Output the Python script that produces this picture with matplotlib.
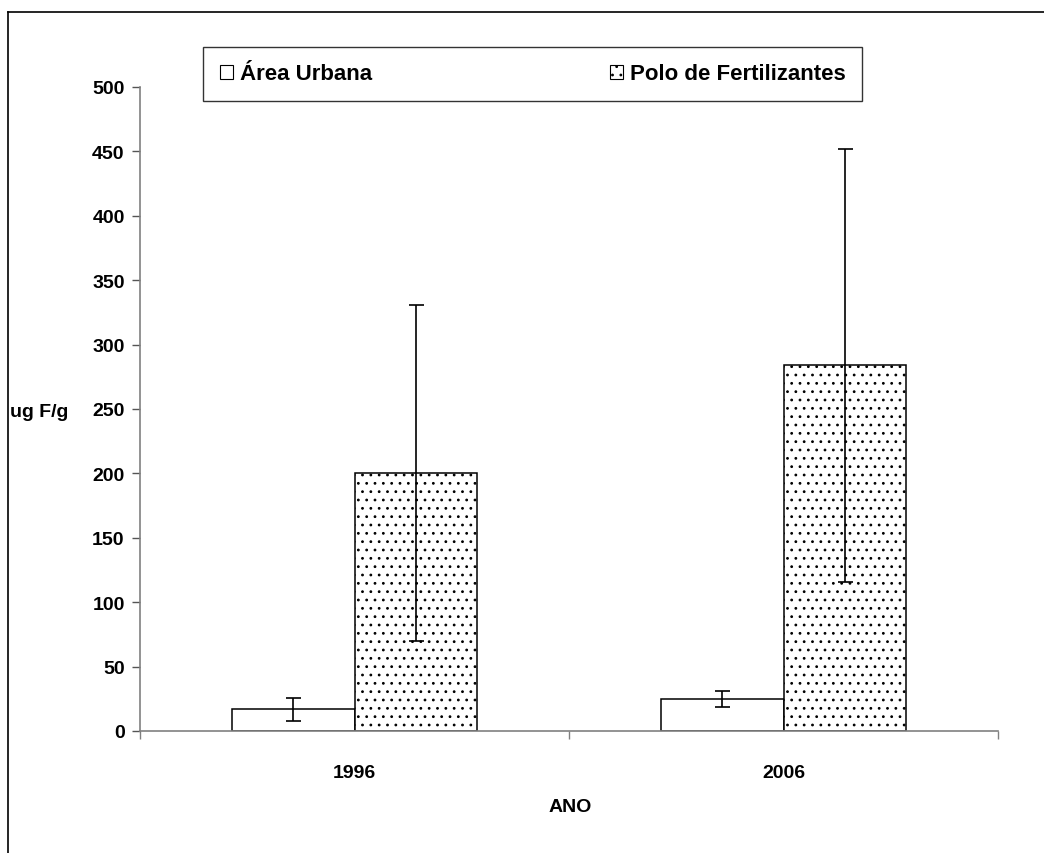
import numpy as np
import matplotlib
matplotlib.use("Agg")
import matplotlib.pyplot as plt
from matplotlib.patches import Patch
from matplotlib.lines import Line2D

plt.rcParams['font.family'] = ['Liberation Sans', 'DejaVu Sans']
plt.rcParams['font.weight'] = 'bold'
plt.rcParams['hatch.color'] = '#777777'
plt.rcParams['hatch.linewidth'] = 0.8

# dados
anos = ['1996', '2006']
urbana = [17, 25]
urbana_err_inf = [9, 6]
urbana_err_sup = [9, 6]
polo = [200, 284]
polo_err_inf = [130, 168]
polo_err_sup = [131, 168]
series = ['Área Urbana', 'Polo de Fertilizantes']

fig = plt.figure(figsize=(10.44, 8.54), dpi=100)
ax = fig.add_axes([140/1044, 1-732/854, (998-140)/1044, (732-88)/854])

x = np.arange(len(anos))
w = 0.286

ax.bar(x - w/2, urbana, w, color='white', edgecolor='black', linewidth=1.1, zorder=2)
ax.bar(x + w/2, polo, w, color='white', edgecolor='black', linewidth=1.1,
       hatch='..', zorder=2)
ax.errorbar(x - w/2, urbana, yerr=[urbana_err_inf, urbana_err_sup], fmt='none',
            ecolor='black', elinewidth=1.2, capsize=5.4, capthick=1.2, zorder=3)
ax.errorbar(x + w/2, polo, yerr=[polo_err_inf, polo_err_sup], fmt='none',
            ecolor='black', elinewidth=1.2, capsize=5.4, capthick=1.2, zorder=3)

ax.set_xlim(-0.5, 1.5)
ax.set_ylim(0, 500)
ax.set_yticks(np.arange(0, 501, 50))
ax.set_xticks([-0.5, 0.5, 1.5])
ax.set_xticklabels([])
ax.set_xticks(x, minor=True)
ax.set_xticklabels(anos, minor=True)
ax.tick_params(axis='x', which='minor', length=0, pad=24, labelsize=14)
ax.tick_params(axis='x', which='major', length=6, color='#808080', width=1)
ax.tick_params(axis='y', length=6, color='#555555', width=1, labelsize=14, pad=5)

for s in ['top', 'right']:
    ax.spines[s].set_visible(False)
for s in ['left', 'bottom']:
    ax.spines[s].set_color('#808080')
    ax.spines[s].set_linewidth(1.2)

fig.text(10/1044, 1-413/854, 'ug F/g', fontsize=14, fontweight='bold', va='center', ha='left')
fig.text(570/1044, 1-808/854, 'ANO', fontsize=14, fontweight='bold', va='center', ha='center')

handles = [Patch(facecolor='white', edgecolor='black', linewidth=0.8),
           Patch(facecolor='white', edgecolor='black', linewidth=0.8, hatch='..')]
leg = fig.legend(handles, series, loc='center',
                 bbox_to_anchor=(203/1044, 1-103/854, (862-203)/1044, 56/854),
                 mode='expand', ncol=2, frameon=True, fancybox=False, edgecolor='black',
                 prop={'weight': 'bold', 'size': 16}, handlelength=0.6, handleheight=0.6,
                 handletextpad=0.3, borderpad=0.75, borderaxespad=0)
leg.get_frame().set_linewidth(1.0)

# moldura da figura (so topo e esquerda visiveis)
fig.add_artist(Line2D([8/1044, 1], [1-13/854, 1-13/854], color='black', linewidth=1.2))
fig.add_artist(Line2D([8/1044, 8/1044], [0, 1-13/854], color='black', linewidth=1.2))

fig.savefig('out.png', dpi=100)
